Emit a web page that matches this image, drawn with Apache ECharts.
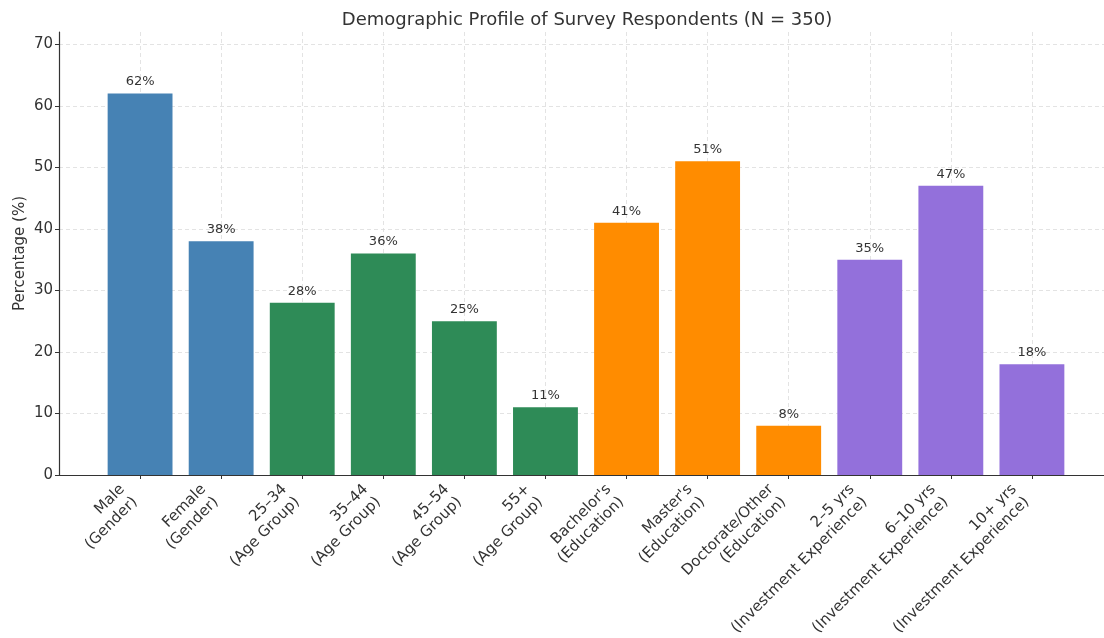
<!DOCTYPE html>
<html>
<head>
<meta charset="utf-8">
<script src="https://cdn.jsdelivr.net/npm/echarts@6/dist/echarts.min.js"></script>
<style>html,body{margin:0;padding:0;background:#fff;overflow:hidden}#c{width:1104px;height:638px}</style>
</head>
<body>
<div id="c"></div>
<script>
const categories = ["Male\n(Gender)", "Female\n(Gender)", "25–34\n(Age Group)", "35–44\n(Age Group)", "45–54\n(Age Group)", "55+\n(Age Group)", "Bachelor's\n(Education)", "Master's\n(Education)", "Doctorate/Other\n(Education)", "2–5 yrs\n(Investment Experience)", "6–10 yrs\n(Investment Experience)", "10+ yrs\n(Investment Experience)"];
const values = [62, 38, 28, 36, 25, 11, 41, 51, 8, 35, 47, 18];
const groups = ["Gender", "Gender", "Age", "Age", "Age", "Age", "Education", "Education", "Education", "Experience", "Experience", "Experience"];
const groupColors = {Gender: "#4682B4", Age: "#2E8B57", Education: "#FF8C00", Experience: "#9370DB"};
const yTicks = [0, 10, 20, 30, 40, 50, 60, 70];

const font = "DejaVu Sans";
const padCats = [""].concat(categories, [""]);
const padData = ["-"].concat(values.map((v, i) => ({value: v, itemStyle: {color: groupColors[groups[i]]}})), ["-"]);
const inner = (i) => i > 0 && i < padCats.length - 1;

const chart = echarts.init(document.getElementById("c"), null, {renderer: "canvas"});
chart.setOption({
  animation: false,
  backgroundColor: "#fff",
  title: {
    text: "Demographic Profile of Survey Respondents (N = 350)",
    left: 582, top: 6, textAlign: "center",
    textStyle: {fontFamily: font, fontSize: 18, fontWeight: "normal", color: "#333"}
  },
  grid: {left: 59, right: -9, top: 32, bottom: 163, containLabel: false, outerBoundsMode: "none"},
  xAxis: {
    type: "category",
    data: padCats,
    boundaryGap: false,
    axisLine: {lineStyle: {color: "#333", width: 1.2}},
    axisTick: {show: true, interval: (i) => inner(i), length: 4, lineStyle: {color: "#333"}},
    axisLabel: {
      interval: (i) => inner(i),
      rotate: 45, margin: 7,
      padding: [0, 16, 0, 0],
      fontFamily: font, fontSize: 15, color: "#333", lineHeight: 18
    },
    splitLine: {show: true, interval: (i) => inner(i), lineStyle: {color: "#dcdcdc", type: [4, 3], width: 0.8}}
  },
  yAxis: {
    type: "value",
    min: 0, max: 72,
    name: "Percentage (%)",
    nameLocation: "middle", nameGap: 31, nameMoveOverlap: false,
    nameTextStyle: {fontFamily: font, fontSize: 15, color: "#333"},
    axisLine: {show: true, lineStyle: {color: "#333", width: 1.2}},
    axisTick: {show: true, length: 4, customValues: yTicks, lineStyle: {color: "#333"}},
    axisLabel: {customValues: yTicks, fontFamily: font, fontSize: 15, color: "#333", margin: 6},
    splitLine: {show: true, lineStyle: {color: "#dcdcdc", type: [4, 3], width: 0.8}}
  },
  series: [{
    type: "bar",
    data: padData,
    barWidth: "80%",
    label: {
      show: true, position: "top", distance: 5,
      formatter: (p) => p.value + "%",
      fontFamily: font, fontSize: 13, color: "#333"
    }
  }]
});
</script>
</body>
</html>
